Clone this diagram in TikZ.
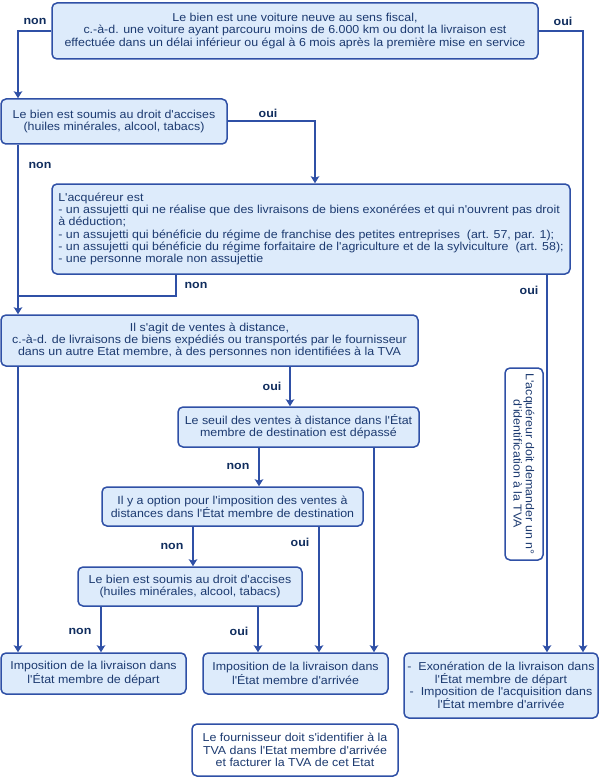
\documentclass[tikz,border=0pt]{standalone}
\usepackage{fontspec}
\setmainfont[FakeStretch=1.08,Ligatures=TeXOff]{Liberation Sans}
\usetikzlibrary{arrows.meta}
\definecolor{boxfill}{HTML}{DDEBFB}
\definecolor{linecol}{HTML}{2F50A6}
\definecolor{textcol}{HTML}{1C3A70}
\definecolor{labcol}{HTML}{102D5E}
\tikzset{
  box/.style={draw=linecol, line width=1.5pt, fill=boxfill, rounded corners=5pt,
    text=textcol, font=\fontsize{11.5}{12.2}\selectfont, align=center, inner sep=0pt},
  wbox/.style={box, fill=white},
  conn/.style={draw=linecol, line width=2pt},
  arr/.style={conn, -{Stealth[length=7pt,width=8.5pt,inset=1.5pt]}},
  lab/.style={text=labcol, font=\fontsize{11.5}{12}\selectfont\bfseries, inner sep=0pt}
}
\begin{document}
\begin{tikzpicture}[x=1pt,y=-1pt]
\useasboundingbox (0,0) rectangle (600,778);
% boxes
\node[box, minimum width=486, minimum height=56] (B1) at (295,31)
  {Le bien est une voiture neuve au sens fiscal,\\
   c.-à-d. une voiture ayant parcouru moins de 6.000 km ou dont la livraison est\\
   effectuée dans un délai inférieur ou égal à 6 mois après la première mise en service};
\node[box, minimum width=226, minimum height=45] (B2) at (114,121.5)
  {Le bien est soumis au droit d'accises\\(huiles minérales, alcool, tabacs)};
\node[box, minimum width=518, minimum height=90, align=left] (B3) at (311,229)
  {L'acquéreur est\\
   - un assujetti qui ne réalise que des livraisons de biens exonérées et qui n'ouvrent pas droit\\
   à déduction;\\
   - un assujetti qui bénéficie du régime de franchise des petites entreprises\ \ (art. 57, par. 1);\\
   - un assujetti qui bénéficie du régime forfaitaire de l'agriculture et de la sylviculture\ \ (art. 58);\\
   - une personne morale non assujettie};
\node[box, minimum width=417, minimum height=51] (B4) at (209.5,340.5)
  {Il s'agit de ventes à distance,\\
   c.-à-d. de livraisons de biens expédiés ou transportés par le fournisseur\\
   dans un autre Etat membre, à des personnes non identifiées à la TVA};
\node[box, minimum width=241, minimum height=40] (B5) at (298.5,427)
  {Le seuil des ventes à distance dans l'État\\membre de destination est dépassé};
\node[box, minimum width=261, minimum height=39] (B6) at (232.5,506.5)
  {Il y a option pour l'imposition des ventes à\\distances dans l'État membre de destination};
\node[box, minimum width=224, minimum height=39] (B7) at (190,586.5)
  {Le bien est soumis au droit d'accises\\(huiles minérales, alcool, tabacs)};
\node[wbox, rotate=-90, minimum width=192, minimum height=38] (V) at (524,464)
  {L'acquéreur doit demander un n°\\d'identification à la TVA};
\node[box, minimum width=185, minimum height=41] (BL) at (93.5,673.5)
  {Imposition de la livraison dans\\l'État membre de départ};
\node[box, minimum width=185, minimum height=41] (BM) at (295.5,673.5)
  {Imposition de la livraison dans\\l'État membre d'arrivée};
\node[box, minimum width=194, minimum height=65] (BR) at (501,685.5)
  {-\ \ Exonération de la livraison dans\\l'État membre de départ\\
   -\ \ Imposition de l'acquisition dans\\l'État membre d'arrivée};
\node[wbox, minimum width=206, minimum height=52] (BW) at (295,750)
  {Le fournisseur doit s'identifier à la\\TVA dans l'Etat membre d'arrivée\\et facturer la TVA de cet Etat};
% helper coordinates
\coordinate (xl) at (18,0);
\coordinate (xr) at (583,0);
\coordinate (x3) at (315,0);
\coordinate (x176) at (176,0);
\coordinate (x547) at (547,0);
\coordinate (j) at (18,296);
\coordinate (x290) at (290,0);
\coordinate (x259) at (259,0);
\coordinate (x374) at (374,0);
\coordinate (x193) at (193,0);
\coordinate (x319) at (319,0);
\coordinate (x101) at (101,0);
\coordinate (x258) at (258,0);
% connectors
\draw[arr] (B1.west) -| (B2.north -| xl);
\draw[arr] (B1.east) -| (BR.north -| xr);
\draw[arr] (B2.east) -| (B3.north -| x3);
\draw[arr] (B2.south -| xl) -- (B4.north -| xl);
\draw[conn] (B3.south -| x176) |- (j);
\draw[arr] (B3.south -| x547) -- (BR.north -| x547);
\draw[arr] (B4.south -| xl) -- (BL.north -| xl);
\draw[arr] (B4.south -| x290) -- (B5.north -| x290);
\draw[arr] (B5.south -| x259) -- (B6.north -| x259);
\draw[arr] (B5.south -| x374) -- (BM.north -| x374);
\draw[arr] (B6.south -| x193) -- (B7.north -| x193);
\draw[arr] (B6.south -| x319) -- (BM.north -| x319);
\draw[arr] (B7.south -| x101) -- (BL.north -| x101);
\draw[arr] (B7.south -| x258) -- (BM.north -| x258);
% labels
\node[lab] (l1) at (35,21) {non};
\node[lab] (l2) at (563,21) {oui};
\node[lab] (l3) at (268,113) {oui};
\node[lab] (l4) at (40,165) {non};
\node[lab] (l5) at (196,285) {non};
\node[lab] (l6) at (529,290) {oui};
\node[lab] (l7) at (272,386) {oui};
\node[lab] (l8) at (238,466) {non};
\node[lab] (l9) at (172,546) {non};
\node[lab] (l10) at (300,542) {oui};
\node[lab] (l11) at (80,631) {non};
\node[lab] (l12) at (239,631) {oui};
\end{tikzpicture}
\end{document}
